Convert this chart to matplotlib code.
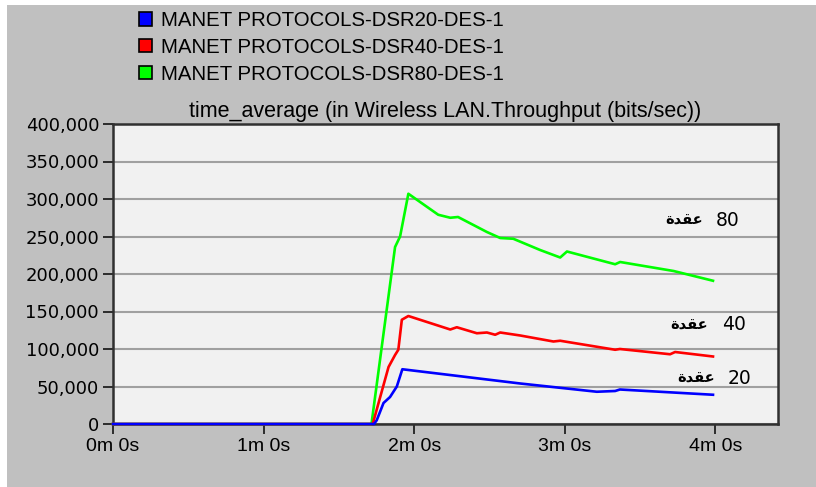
import matplotlib
matplotlib.use("Agg")
import matplotlib.pyplot as plt
from matplotlib.patches import Patch, Rectangle
from matplotlib.ticker import FuncFormatter, MultipleLocator
from matplotlib import font_manager

# series (time in seconds, throughput in bits/sec)
t_dsr20 = [0, 104, 105.1, 107.8, 110.4, 113.1, 115.3, 162.3, 192.8, 200.1, 202, 239.1]
v_dsr20 = [0, 0, 5000, 28000, 36000, 50000, 73000, 54000, 43000, 44000, 46000, 39000]

t_dsr40 = [0, 103.5, 109.8, 112.4, 113.7, 115.1, 117.7, 134.4, 137, 145, 149, 152.3,
           154.3, 162.3, 175.5, 178.2, 200.1, 202, 222, 224, 239.1]
v_dsr40 = [0, 0, 76000, 92000, 99000, 139000, 144000, 126000, 129000, 121000, 122000, 119000,
           122000, 118000, 110000, 111000, 99000, 100000, 93000, 96000, 90000]

t_dsr80 = [0, 103, 112.4, 114.4, 117.7, 129.6, 134.4, 137.5, 149, 154.3, 159.5, 170.2,
           178.2, 180.9, 188.8, 200.1, 202.1, 223.4, 239.1]
v_dsr80 = [0, 0, 236000, 250000, 307000, 279000, 275000, 276000, 256000, 248000, 247000, 232000,
           222000, 230000, 223000, 213000, 216000, 204000, 191000]

series_names = ["MANET PROTOCOLS-DSR20-DES-1",
                "MANET PROTOCOLS-DSR40-DES-1",
                "MANET PROTOCOLS-DSR80-DES-1"]
series_colors = ["#0000ff", "#ff0000", "#00ff00"]
node_counts = ["20", "40", "80"]
node_word = "عقدة"

x_ticks = [0, 60, 120, 180, 240]
x_tick_labels = ["0m 0s", "1m 0s", "2m 0s", "3m 0s", "4m 0s"]
title = "time_average (in Wireless LAN.Throughput (bits/sec))"


def shape_arabic(word):
    # matplotlib has no text shaping, so map the letters to their joined
    # presentation forms and put them in visual (left to right) order
    forms = {"ع": "\uFECB", "ق": "\uFED8", "د": "\uFEAA", "ة": "\uFE93"}
    return "".join(forms[c] for c in word)[::-1]


names = {f.name for f in font_manager.fontManager.ttflist}
narrow = "Liberation Sans"
for cand in ["Liberation Sans Narrow", "DejaVu Sans Condensed"]:
    if cand in names:
        narrow = cand
        break

fig = plt.figure(figsize=(8.16, 4.87), dpi=100, facecolor="white")
fig.patches.append(Rectangle((7 / 816, 0), 1, 482 / 487, transform=fig.transFigure,
                             facecolor="#c0c0c0", edgecolor="none", zorder=-5))

ax = fig.add_axes([113 / 816, 63 / 487, 665 / 816, 300 / 487])
ax.set_facecolor("#f1f1f1")

ax.plot(t_dsr80, v_dsr80, color=series_colors[2], lw=1.9, clip_on=False, zorder=3)
ax.plot(t_dsr40, v_dsr40, color=series_colors[1], lw=1.9, clip_on=False, zorder=4)
ax.plot(t_dsr20, v_dsr20, color=series_colors[0], lw=1.9, clip_on=False, zorder=5)

ax.set_xlim(0, 265)
ax.set_ylim(0, 400000)
ax.yaxis.set_major_locator(MultipleLocator(50000))
ax.yaxis.set_major_formatter(FuncFormatter(lambda v, p: f"{int(v):,}"))
ax.set_xticks(x_ticks)
ax.set_xticklabels(x_tick_labels, family=narrow, fontsize=14)
for lab in ax.get_yticklabels():
    lab.set_family("DejaVu Sans")
    lab.set_fontsize(13)
ax.grid(axis="y", color="#a0a0a0", lw=1.5)
ax.set_axisbelow(True)
ax.tick_params(axis="both", length=7, width=1.3, color="#202020", pad=3)
for s in ax.spines.values():
    s.set_color("#303030")
    s.set_linewidth(1.8)

ax.set_title(title, family="Liberation Sans", fontsize=15.5, pad=5)

# labels at the line ends
word = shape_arabic(node_word)
label_pos = [(240.0, 244.9, 61000), (237.2, 242.6, 132000), (235.2, 240.2, 272000)]
for n, (ta, tn, v) in zip(node_counts, label_pos):
    ax.text(ta, v, word, ha="right", va="center", family="DejaVu Sans",
            fontweight="bold", fontsize=10.5, zorder=6)
    ax.text(tn, v, n, ha="left", va="center", family="DejaVu Sans",
            fontsize=13.5, zorder=6)

handles = [Patch(facecolor=c, edgecolor="black", lw=1.2) for c in series_colors]
fig.legend(handles, series_names, loc="upper left", bbox_to_anchor=(125 / 816, 1 + 3 / 487),
           frameon=False, prop={"family": "Liberation Sans", "size": 14.7},
           handlelength=0.62, handleheight=0.62, handletextpad=0.45,
           labelspacing=0.38, borderpad=0.2)

fig.savefig("out.png", dpi=100, facecolor=fig.get_facecolor())
